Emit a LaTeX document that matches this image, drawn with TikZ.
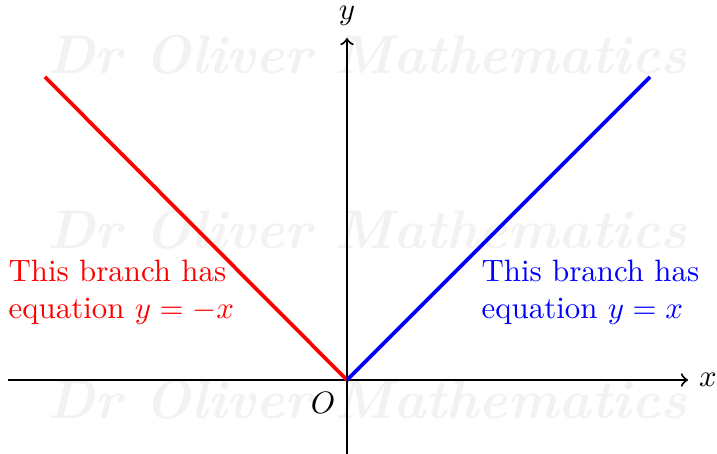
\documentclass[tikz,border=0pt]{standalone}
\begin{document}
\begin{tikzpicture}[x=0.3236pt,y=-0.3236pt,
  axisline/.style={line width=0.65pt,->},
  branch/.style={line width=1.2pt},
  wmark/.style={text=black!5,inner sep=0pt},
  lbl/.style={inner sep=0pt}]
\useasboundingbox (0,0) rectangle (717,454);
% watermark
\foreach \yy/\nm in {55/w1,230/w2,400/w3}{
  \node[wmark] (\nm) at (367,\yy) {\resizebox{207pt}{!}{\bfseries\itshape Dr Oliver Mathematics}};
}
% coordinates
\coordinate (O) at (347,380);
\coordinate (xl) at (8,380);
\coordinate (xr) at (688,380);
\coordinate (yb) at (347,454);
\coordinate (yt) at (347,38);
\coordinate (R) at (45,77);
\coordinate (B) at (650,77);
% axes
\draw[axisline] (xl) -- (xr);
\draw[axisline] (yb) -- (yt);
\node[lbl] (xlab) at (708,380) {$x$};
\node[lbl] (ylab) at (347,16) {$y$};
\node[lbl] (Olab) at (323,403) {$O$};
% branches
\draw[branch,red] (O) -- (R);
\draw[branch,blue] (O) -- (B);
% texts
\node[lbl,anchor=west,align=left,text=red] (rt) at (8,292) {This branch has\\equation $y=-x$};
\node[lbl,anchor=west,align=left,text=blue] (bt) at (481,292) {This branch has\\equation $y=x$};
\end{tikzpicture}
\end{document}
